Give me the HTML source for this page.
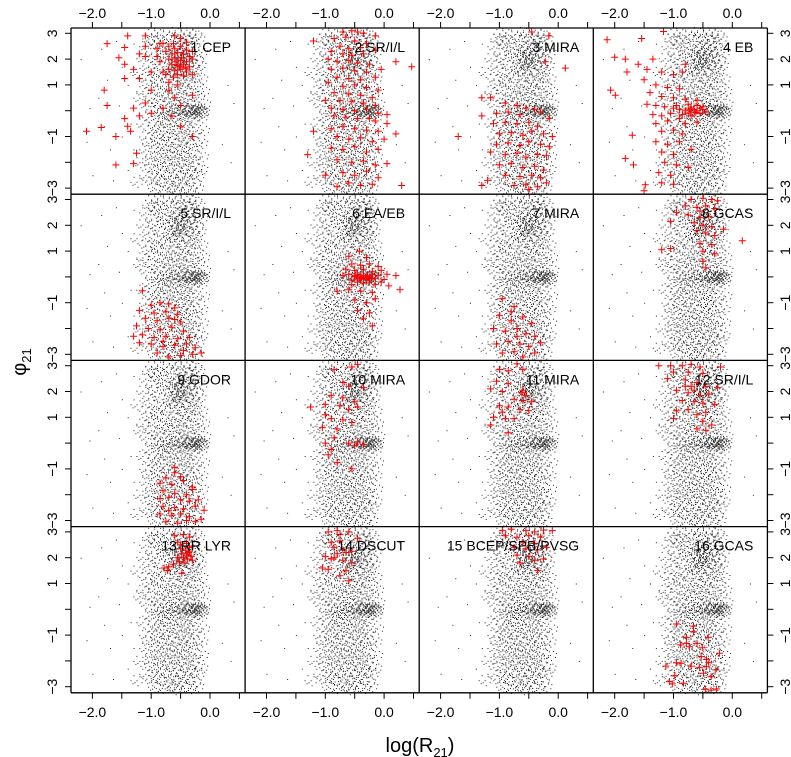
<!DOCTYPE html>
<html><head><meta charset="utf-8">
<style>
html,body{margin:0;padding:0;background:#fff;}
svg{display:block;font-family:"Liberation Sans",sans-serif;}
</style></head>
<body>
<svg id="chart" width="791" height="757" viewBox="0 0 791 757" xmlns="http://www.w3.org/2000/svg">
<text x="420" y="752" font-size="20" text-anchor="middle">log(R<tspan font-size="13" dy="5">21</tspan><tspan dy="-5">)</tspan></text>
<text transform="translate(26,362) rotate(-90)" font-size="20" text-anchor="middle">φ<tspan font-size="13" dy="5">21</tspan></text>
</svg>
<script>
// ---- data ----
const panelLabels=["1 CEP","2 SR/I/L","3 MIRA","4 EB","5 SR/I/L","6 EA/EB","7 MIRA","8 GCAS","9 GDOR","10 MIRA","11 MIRA","12 SR/I/L","13 RR LYR","14 DSCUT","15 BCEP/SPB/PVSG","16 GCAS"];
const xTicks=[-2,-1.5,-1,-0.5,0,0.5];
const xTickLabels=["-2.0","","-1.0","","0.0",""];
const yTicks=[3,2,1,0,-1,-2,-3];
const yTickLabels=["3","2","1","","\u22121","","\u22123"];
const bgPoints=[
-0.9,3.0,-0.75,2.95,-0.6,3.05,-0.45,2.98,-0.35,3.02,-0.55,2.92,-1.0,2.97,-0.25,2.95,
-1.05,2.8,-0.85,2.72,-0.68,2.78,-0.52,2.7,-0.4,2.76,-0.3,2.7,-0.95,2.68,-0.2,2.8,
-1.1,2.5,-0.9,2.55,-0.78,2.45,-0.62,2.52,-0.5,2.48,-0.38,2.55,-0.28,2.45,-1.3,2.6,
-1.0,2.25,-0.82,2.3,-0.7,2.2,-0.58,2.28,-0.47,2.22,-0.36,2.3,-0.25,2.2,-0.15,2.27,
-0.95,2.0,-0.8,2.05,-0.66,1.95,-0.55,2.02,-0.44,1.97,-0.33,2.05,-0.22,1.95,-1.15,2.03,
-1.05,1.75,-0.88,1.8,-0.72,1.7,-0.6,1.78,-0.5,1.72,-0.4,1.8,-0.3,1.7,-0.18,1.77,
-1.0,1.5,-0.85,1.45,-0.7,1.55,-0.58,1.48,-0.46,1.52,-0.35,1.45,-0.24,1.55,-1.25,1.5,
-1.1,1.25,-0.92,1.2,-0.78,1.3,-0.64,1.22,-0.52,1.28,-0.4,1.2,-0.28,1.3,-0.15,1.25,
-1.05,1.0,-0.9,1.05,-0.75,0.95,-0.62,1.02,-0.48,0.97,-0.36,1.05,-0.22,0.95,-1.4,1.0,
-1.15,0.75,-0.95,0.8,-0.8,0.7,-0.66,0.78,-0.54,0.72,-0.42,0.8,-0.3,0.7,-0.12,0.76,
-1.0,0.5,-0.86,0.45,-0.72,0.55,-0.6,0.48,-0.47,0.52,-0.35,0.46,-0.2,0.54,-1.2,0.5,
-1.1,0.25,-0.9,0.3,-0.76,0.2,-0.63,0.28,-0.5,0.22,-0.38,0.3,-0.26,0.2,-0.1,0.27,
-0.9,0.02,-0.8,-0.04,-0.7,0.05,-0.62,-0.02,-0.55,0.04,-0.48,-0.05,-0.42,0.03,-0.37,-0.02,
-0.33,0.05,-0.3,-0.04,-0.27,0.02,-0.24,-0.03,-0.21,0.04,-0.18,-0.01,-0.15,0.03,-0.12,-0.04,
-0.35,0.0,-0.25,0.0,-0.2,0.08,-0.28,-0.08,-0.16,-0.08,-0.45,0.08,-0.52,-0.09,-0.65,0.1,-0.75,-0.1,-1.0,0.0,
-1.05,-0.25,-0.9,-0.2,-0.78,-0.3,-0.65,-0.22,-0.52,-0.28,-0.4,-0.2,-0.28,-0.3,-0.15,-0.25,
-1.15,-0.5,-0.95,-0.55,-0.82,-0.45,-0.7,-0.52,-0.58,-0.48,-0.45,-0.55,-0.32,-0.45,-1.35,-0.5,
-1.0,-0.75,-0.88,-0.7,-0.74,-0.8,-0.62,-0.72,-0.5,-0.78,-0.38,-0.7,-0.25,-0.8,-0.12,-0.75,
-1.1,-1.0,-0.92,-1.05,-0.8,-0.95,-0.68,-1.02,-0.55,-0.97,-0.43,-1.05,-0.3,-0.95,-1.5,-1.0,
-1.05,-1.25,-0.9,-1.2,-0.76,-1.3,-0.64,-1.22,-0.5,-1.28,-0.38,-1.2,-0.24,-1.3,-0.15,-1.25,
-1.1,-1.5,-0.95,-1.55,-0.82,-1.45,-0.7,-1.52,-0.58,-1.48,-0.46,-1.55,-0.34,-1.45,-1.3,-1.5,
-1.0,-1.75,-0.86,-1.8,-0.74,-1.7,-0.62,-1.78,-0.5,-1.72,-0.38,-1.8,-0.26,-1.7,-0.14,-1.77,
-1.05,-2.0,-0.9,-2.05,-0.78,-1.95,-0.66,-2.02,-0.54,-1.97,-0.42,-2.05,-0.3,-1.95,-1.2,-2.0,
-1.0,-2.25,-0.85,-2.3,-0.72,-2.2,-0.6,-2.28,-0.48,-2.22,-0.36,-2.3,-0.24,-2.2,-0.15,-2.26,
-1.1,-2.5,-0.94,-2.55,-0.8,-2.45,-0.68,-2.52,-0.56,-2.48,-0.44,-2.55,-0.32,-2.45,-0.2,-2.5,
-1.0,-2.75,-0.87,-2.7,-0.74,-2.8,-0.62,-2.72,-0.5,-2.78,-0.38,-2.7,-0.26,-2.8,-1.25,-2.75,
-0.95,-3.0,-0.82,-3.05,-0.7,-2.95,-0.58,-3.02,-0.46,-2.97,-0.34,-3.05,-0.22,-2.98,-0.6,-3.1,
-0.6,2.1,-0.55,1.9,-0.5,2.15,-0.45,1.85,-0.4,2.0,-0.52,1.8,-0.48,2.25,-0.58,2.35,-0.42,2.4,-0.62,1.65,
-2.2,2.0,-1.9,0.5,-1.7,-1.5,-2.0,-2.5,-1.6,2.7,-1.8,-0.6,-1.5,1.7,-2.1,-1.2,0.3,1.0,0.35,-2.0,0.25,2.6,-1.4,-2.3,-1.55,0.2,
-1.75,1.2,-2.05,0.1,-1.65,-2.7,0.4,0.3,0.2,-1.3,-1.85,2.4
];
const red1=[-2.1,-0.8,-1.8,0.8,-1.75,2.6,-1.75,0.2,-1.85,-0.65,-1.6,-1.0,-1.55,2.05,-1.45,2.45,-1.45,1.8,-1.45,1.25,-1.4,2.9,-1.3,1.6,-1.3,0.1,-1.2,1.25,-1.2,2.2,-1.1,2.9,-1.1,2.5,-1.1,2.1,-1.0,1.5,-1.0,0.8,-1.1,0.3,-1.2,-0.2,-1.45,-0.3,-1.4,-0.6,-1.35,-0.8,-1.25,-1.65,-1.3,-2.05,-1.6,-2.1,-1.0,-0.1,-0.9,2.1,-0.85,2.6,-0.8,1.5,-0.7,0.8,-0.6,0.5,-0.5,0.2,-0.8,0.1,-0.65,-0.2,-0.5,-0.6,-0.3,-1.0,-0.3,0.6,-0.6,2.9,-0.7,1.1,-0.55,1.0,
-0.7,2.5,-0.6,2.4,-0.5,2.5,-0.4,2.35,-0.65,2.2,-0.55,2.25,-0.45,2.2,-0.35,2.1,-0.7,2.0,-0.6,2.05,-0.5,1.95,-0.4,1.9,-0.3,2.0,-0.65,1.8,-0.55,1.75,-0.45,1.8,-0.35,1.7,-0.7,1.6,-0.6,1.55,-0.5,1.6,-0.4,1.5,-0.55,1.4,-0.45,1.35,-0.62,1.3,-0.48,2.05,-0.58,1.9,-0.52,1.7,-0.42,1.65,-0.75,2.3,-0.8,2.6,-0.5,2.8,-0.4,2.65,-0.9,2.4,-0.85,1.9,-0.75,1.4,-0.3,1.4,-0.3,2.3,-0.62,2.6];
const red2=[-0.7,3.05,-0.55,3.1,-0.45,3.05,-0.35,3.0,-0.15,2.9,-0.65,2.85,-0.85,2.8,-1.2,2.7,-0.5,2.7,-0.3,2.6,-0.75,2.5,-0.6,2.4,-0.4,2.45,-0.15,2.35,-0.9,2.3,-0.7,2.2,-0.55,2.15,-0.35,2.2,0.2,1.9,0.47,1.7,-0.95,2.0,-0.8,1.9,-0.6,1.95,-0.45,1.85,-0.25,1.8,-0.05,1.6,-0.9,1.6,-0.7,1.65,-0.5,1.55,-0.3,1.5,-0.15,1.3,-0.8,1.3,-0.6,1.25,-0.4,1.2,-0.95,1.1,-0.7,0.95,-0.5,1.0,-0.3,0.9,-0.1,0.8,-0.85,0.7,-0.6,0.65,-0.4,0.6,-0.2,0.5,-1.0,0.4,-0.75,0.4,-0.55,0.35,-0.35,0.3,-0.15,0.2,-0.9,0.1,-0.7,0.05,-0.5,0.0,-0.3,0.05,-0.1,-0.1,0.05,-0.15,-0.85,-0.2,-0.65,-0.25,-0.45,-0.3,-0.25,-0.3,-0.15,-0.4,0.05,-0.5,-1.2,-0.8,-0.9,-0.7,-0.7,-0.6,-0.5,-0.7,-0.3,-0.75,-0.1,-0.8,-0.8,-1.0,-0.6,-1.1,-0.4,-1.05,-0.2,-1.2,0.0,-1.1,0.2,-0.9,-1.3,-1.7,-0.9,-1.45,-0.7,-1.5,-0.5,-1.4,-0.3,-1.6,-0.1,-1.5,-0.8,-1.9,-0.55,-2.0,-0.35,-1.95,-0.15,-2.1,0.05,-2.05,-1.0,-2.5,-0.7,-2.4,-0.5,-2.5,-0.3,-2.35,-0.1,-2.6,-0.6,-2.8,-0.4,-2.9,0.3,-2.9,-0.8,-2.95,-0.2,-2.85];
const red3=[-0.45,3.05,-0.16,2.9,-0.22,1.9,0.12,1.65,-1.3,0.5,-1.15,0.5,-1.7,-1.0,-1.3,-2.9,-1.2,-2.7,-1.05,-0.1,-1.3,-0.2,-0.9,0.3,-0.7,0.2,-0.55,0.1,-0.4,0.05,-0.85,-0.05,-0.65,-0.15,-0.3,-0.05,-1.1,-0.5,-0.9,-0.45,-0.7,-0.5,-0.5,-0.45,-0.35,-0.6,-0.15,-0.3,-1.0,-0.9,-0.8,-0.85,-0.6,-0.95,-0.45,-0.8,-0.25,-0.9,-0.1,-1.0,-1.05,-1.3,-0.85,-1.25,-0.65,-1.35,-0.5,-1.2,-0.3,-1.3,-0.15,-1.4,-1.15,-1.6,-0.9,-1.7,-0.7,-1.65,-0.55,-1.8,-0.35,-1.7,-0.2,-1.75,-1.0,-2.1,-0.8,-2.05,-0.6,-2.2,-0.4,-2.15,-0.25,-2.3,-0.9,-2.5,-0.65,-2.55,-0.45,-2.5,-0.3,-2.6,-0.75,-2.9,-0.55,-2.85,-0.35,-2.95,-0.2,-2.8,-0.5,-3.05];
const red4=[-2.13,2.75,-2.07,0.8,-1.99,0.6,-2.0,2.07,-1.82,2.0,-1.79,1.5,-1.7,-0.95,-1.82,-1.85,-1.68,-2.1,-1.54,2.8,-1.17,3.07,-1.48,-2.87,-1.5,-3.1,-1.6,1.8,-1.45,1.6,-1.35,2.0,-1.2,1.5,-1.0,1.4,-0.8,1.8,-0.85,1.5,-1.5,1.2,-1.3,1.0,-1.1,0.9,-0.9,0.85,-1.4,0.7,-1.2,0.55,-1.0,0.5,-0.8,0.45,-0.6,0.4,-1.45,0.25,-1.3,0.2,-1.15,0.15,-1.0,0.1,-0.9,0.05,-0.8,0.0,-0.7,0.1,-0.6,0.0,-0.5,0.05,-0.45,-0.05,-0.55,-0.1,-0.65,-0.05,-0.75,-0.1,-0.85,-0.15,-1.05,-0.1,-1.2,-0.2,-1.35,-0.15,-0.95,0.2,-0.75,0.25,-0.6,0.2,-0.5,0.15,-0.7,-0.2,-0.9,-0.3,-1.1,-0.4,-1.3,-0.5,-0.8,-0.5,-0.6,-0.45,-1.2,-0.8,-1.0,-0.75,-0.85,-0.9,-1.3,-1.2,-1.1,-1.3,-0.9,-1.2,-1.2,-1.6,-1.0,-1.7,-1.15,-2.0,-0.95,-2.1,-1.25,-2.4,-1.05,-2.5,-1.2,-2.8,-1.0,-2.85,-0.7,-1.5,-0.75,-2.2,-0.65,0.05,-0.55,0.1,-0.72,0.05,-0.62,-0.08];
const red5=[-1.15,-0.54,-1.2,-1.3,-1.0,-1.1,-0.85,-1.0,-0.7,-1.05,-0.6,-1.2,-0.95,-1.4,-0.75,-1.35,-0.55,-1.45,-1.1,-1.6,-0.9,-1.7,-0.7,-1.6,-0.5,-1.75,-1.25,-1.9,-1.05,-2.0,-0.85,-2.05,-0.65,-1.95,-0.45,-2.1,-1.3,-2.3,-1.15,-2.25,-0.95,-2.35,-0.75,-2.3,-0.55,-2.4,-0.35,-2.35,-1.0,-2.6,-0.8,-2.7,-0.6,-2.65,-0.4,-2.6,-0.25,-2.75,-0.9,-2.95,-0.7,-3.1,-0.5,-3.05,-0.3,-3.0,-1.2,-2.55,-0.6,-1.65,-0.8,-2.5,-0.45,-2.85,-0.15,-2.95];
const red6=[-0.42,1.0,-0.6,0.8,-0.3,0.75,-0.55,0.5,-0.4,0.45,-0.25,0.5,-0.1,0.4,-0.65,0.3,-0.5,0.25,-0.35,0.3,-0.2,0.2,-0.05,0.25,0.05,0.1,-0.7,0.05,-0.6,0.1,-0.5,0.0,-0.45,0.1,-0.4,-0.05,-0.35,0.05,-0.3,-0.1,-0.25,0.0,-0.2,0.1,-0.15,-0.05,-0.1,0.05,0.0,-0.1,-0.55,-0.15,-0.45,-0.2,-0.35,-0.25,-0.25,-0.2,-0.15,-0.3,-0.05,-0.2,0.08,-0.35,0.2,0.05,0.27,-0.5,-0.8,-0.55,-0.6,-0.5,-0.4,-0.55,-0.2,-0.6,-0.5,-0.9,-0.3,-1.0,-0.15,-0.85,-0.45,-1.3,-0.25,-1.4,-0.35,-1.6,-0.2,-1.9,-0.55,-0.3,-0.48,0.05,-0.38,0.0,-0.28,0.05,-0.32,-0.02,-0.42,-0.08,-0.22,-0.08];
const red7=[-0.95,-0.85,-0.75,-1.15,-1.0,-1.5,-0.8,-1.7,-0.6,-1.55,-0.45,-1.8,-1.1,-2.0,-0.9,-2.1,-0.7,-2.0,-0.55,-2.2,-0.4,-2.3,-1.05,-2.6,-0.85,-2.5,-0.65,-2.6,-0.5,-2.7,-0.3,-2.55,-0.95,-2.95,-0.75,-2.9,-0.6,-3.1,-0.4,-2.95,-0.7,-2.3,-0.8,-1.35];
const red8=[-0.7,3.0,-0.5,3.05,-0.35,3.0,-0.25,2.95,-0.8,2.75,-0.6,2.7,-0.45,2.75,-0.3,2.65,-0.95,2.5,-0.75,2.4,-0.55,2.3,-0.4,2.35,-1.05,2.15,-0.65,2.1,-0.5,2.0,-0.35,1.95,-0.6,1.8,-0.45,1.7,-0.3,1.6,-0.15,1.85,0.17,1.4,-1.2,1.05,-1.05,1.1,-0.55,1.3,-0.35,1.25,-0.5,1.0,-0.3,0.9,-0.5,0.6,-0.45,0.35,-0.55,2.55];
const red9=[-0.6,-0.95,-0.6,-1.15,-0.75,-1.35,-0.5,-1.3,-0.85,-1.55,-0.65,-1.6,-0.45,-1.45,-0.3,-1.7,-0.8,-1.85,-0.6,-1.95,-0.4,-2.0,-0.85,-2.15,-0.7,-2.1,-0.5,-2.2,-0.35,-2.25,-0.2,-2.2,-0.8,-2.45,-0.6,-2.5,-0.45,-2.55,-0.25,-2.45,-0.1,-2.6,-0.85,-2.75,-0.65,-2.8,-0.5,-2.75,-0.35,-2.85,-0.15,-2.95,-0.75,-3.05,-0.55,-3.1,-0.4,-3.0,-0.25,-3.05,-0.3,-1.8,-0.7,-2.6];
const red10=[-0.55,2.95,-0.45,3.05,-0.85,2.85,-0.7,2.35,-0.6,2.2,-0.35,2.15,-0.9,1.85,-0.7,1.75,-0.5,1.6,-0.75,1.45,-1.25,1.4,-1.0,1.5,-0.6,1.3,-0.45,1.4,-1.0,1.1,-0.9,0.95,-0.7,0.9,-0.55,0.8,-1.05,0.6,-0.8,0.55,-1.0,0.0,-0.85,0.2,-0.6,0.0,-0.5,-0.1,-0.45,0.05,-0.35,-0.05,-0.9,-0.25,-0.95,-0.45,-0.8,-0.75,-0.55,-1.0];
const red11=[-0.7,3.07,-1.0,2.85,-0.85,2.8,-0.6,2.85,-1.05,2.4,-0.85,2.3,-1.15,2.1,-0.95,2.0,-0.6,2.05,-0.62,1.95,-0.55,1.85,-0.75,1.7,-0.6,1.65,-0.45,1.6,-1.0,1.45,-0.85,1.4,-0.65,1.3,-0.5,1.25,-1.1,1.0,-0.9,0.95,-0.75,0.95,-1.15,0.7,-0.85,0.4,-0.95,1.2];
const red12=[-1.25,3.0,-1.05,3.0,-0.85,3.0,-0.7,3.05,-0.55,2.95,-0.2,2.95,-1.0,2.75,-0.75,2.75,-0.5,2.7,-1.1,2.5,-0.8,2.45,-0.6,2.35,-0.7,2.2,-0.45,2.2,-0.25,2.15,-0.95,2.05,-0.75,1.95,-0.55,1.85,-0.4,1.9,-0.85,1.65,-0.65,1.6,-0.5,1.55,-0.3,1.5,-0.95,1.25,-0.75,1.3,-0.6,1.1,-0.45,1.2,-1.0,0.95,-0.5,0.85,-0.35,0.7,-0.6,0.55,-0.45,0.5,-0.8,2.2,-0.65,2.05];
const red13=[-0.6,2.85,-0.45,2.9,-0.35,2.8,-0.55,2.6,-0.4,2.55,-0.3,2.45,-0.5,2.35,-0.42,2.3,-0.35,2.25,-0.48,2.15,-0.4,2.1,-0.32,2.05,-0.45,2.0,-0.38,1.95,-0.3,1.9,-0.52,1.85,-0.44,1.8,-0.36,2.2,-0.55,2.0,-0.62,1.75,-0.7,1.65,-0.78,1.6,-0.72,1.5,-0.48,1.4,-0.35,2.4,-0.5,2.5];
const red14=[-0.95,3.0,-0.8,3.05,-0.75,2.9,-0.6,3.0,-0.45,2.75,-0.9,2.6,-0.75,2.65,-0.85,2.4,-0.7,2.3,-0.65,2.2,-0.55,2.25,-0.8,2.15,-1.0,2.05,-0.9,1.95,-0.7,1.9,-0.55,1.8,-1.05,1.6,-0.95,1.55,-0.65,1.5,-0.75,1.3,-0.6,1.1,-0.85,2.0];
const red15=[-0.95,3.05,-0.8,3.1,-0.55,3.05,-0.4,3.0,-0.25,3.07,-0.1,3.05,-0.9,2.85,-0.7,2.8,-0.5,2.85,-0.3,2.8,-0.6,2.6,-0.4,2.55,-0.75,2.4,-0.55,2.35,-0.35,2.3,-0.2,2.4,-0.7,2.1,-0.5,2.05,-0.65,1.8,-0.4,1.9,-0.35,1.5,-0.25,1.95];
const red16=[-0.95,-0.57,-0.66,-0.65,-0.66,-0.87,-0.78,-1.09,-0.41,-1.09,-0.88,-1.38,-0.73,-1.45,-0.6,-1.32,-0.51,-1.49,-0.22,-1.7,-0.53,-1.83,-0.44,-1.94,-0.95,-2.07,-0.87,-2.09,-1.13,-2.2,-0.7,-2.2,-0.56,-2.26,-0.4,-2.05,-0.44,-2.22,-0.28,-2.35,-0.49,-2.48,-0.36,-2.61,-0.98,-2.57,-1.07,-2.8,-1.02,-2.89,-0.83,-2.87,-0.46,-3.1,-0.36,-3.13,-0.27,-3.09,-0.78,-1.32];
const redSets=[red1,red2,red3,red4,red5,red6,red7,red8,red9,red10,red11,red12,red13,red14,red15,red16];

// ---- layout ----
const NS="http://www.w3.org/2000/svg";
const svg=document.getElementById('chart');
const L0=71, T0=28, PW=174.1, PH=166.2;
function px(c,v){return L0+c*PW+139+58.8*v;}
function py(r,v){return T0+r*PH+82.7-25.8*v;}
function mk(tag,attrs,parent){const e=document.createElementNS(NS,tag);for(const k in attrs)e.setAttribute(k,attrs[k]);(parent||svg).appendChild(e);return e;}
const dotOff=[[0,0],[3,-4],[-4,3],[5,2],[-3,-5],[1,5],[-6,0],[6,-2],[-2,2]];

for(let p=0;p<16;p++){
  const c=p%4, r=Math.floor(p/4);
  const g=mk('g',{});
  
  
  let d='';
  for(let i=0;i<bgPoints.length;i+=2){
    const vx=bgPoints[i];
    const x=px(c,vx), y=py(r,bgPoints[i+1]);
    const inBand=(vx>-1.3&&vx<0.1);
    const offs=inBand?dotOff:[[0,0]];
    for(const o of offs){d+='M'+(x+o[0]).toFixed(1)+' '+(y+o[1]).toFixed(1)+'h1v1h-1z';}
  }
  const bg=mk('path',{d:d,fill:'#000','fill-opacity':'0.85'},g);
  
  
  const rs=redSets[p]; let rd='';
  for(let i=0;i<rs.length;i+=2){
    const x=px(c,rs[i]), y=py(r,rs[i+1]);
    rd+='M'+(x-3.5).toFixed(1)+' '+y.toFixed(1)+'h7M'+x.toFixed(1)+' '+(y-3.5).toFixed(1)+'v7';
  }
  const rp=mk('path',{d:rd,stroke:'#ff0000','stroke-width':'1',fill:'none'},g);
  
  
  const lab=mk('text',{x:(L0+c*PW+160).toFixed(1),y:(T0+r*PH+24).toFixed(1),'font-size':'14','text-anchor':'end'},g);
  
  
  lab.textContent=panelLabels[p];
}
for(let c=0;c<=4;c++){const l=mk('line',{x1:L0+c*PW,x2:L0+c*PW,y1:T0,y2:T0+4*PH,stroke:'#000','stroke-width':'1.3'});
  
  }
for(let r=0;r<=4;r++){const l=mk('line',{x1:L0,x2:L0+4*PW,y1:T0+r*PH,y2:T0+r*PH,stroke:'#000','stroke-width':'1.3'});
  
  }
for(let c=0;c<4;c++){
  xTicks.forEach((v,i)=>{
    const x=px(c,v);
    for(const side of [0,1]){
      const yb=side?T0+4*PH:T0;
      const t=mk('line',{x1:x,x2:x,y1:yb,y2:side?yb+6:yb-6,stroke:'#000','stroke-width':'1'});
      
      
      if(xTickLabels[i]){
        const tl=mk('text',{x:x,y:side?yb+24:yb-10,'font-size':'14','text-anchor':'middle'});
        
        
        tl.textContent=xTickLabels[i].replace('-','\u2212');
      }
    }
  });
}
for(let r=0;r<4;r++){
  yTicks.forEach((v,i)=>{
    const y=py(r,v);
    for(const side of [0,1]){
      const xb=side?L0+4*PW:L0;
      const t=mk('line',{x1:xb,x2:side?xb+6:xb-6,y1:y,y2:y,stroke:'#000','stroke-width':'1'});
      
      
      if(yTickLabels[i]){
        const bx=side?790:57;
        const tl=mk('text',{transform:'translate('+bx+','+y.toFixed(1)+') rotate(-90)','font-size':'14','text-anchor':'middle'});
        
        
        tl.textContent=yTickLabels[i];
      }
    }
  });
}
</script>
</body></html>
